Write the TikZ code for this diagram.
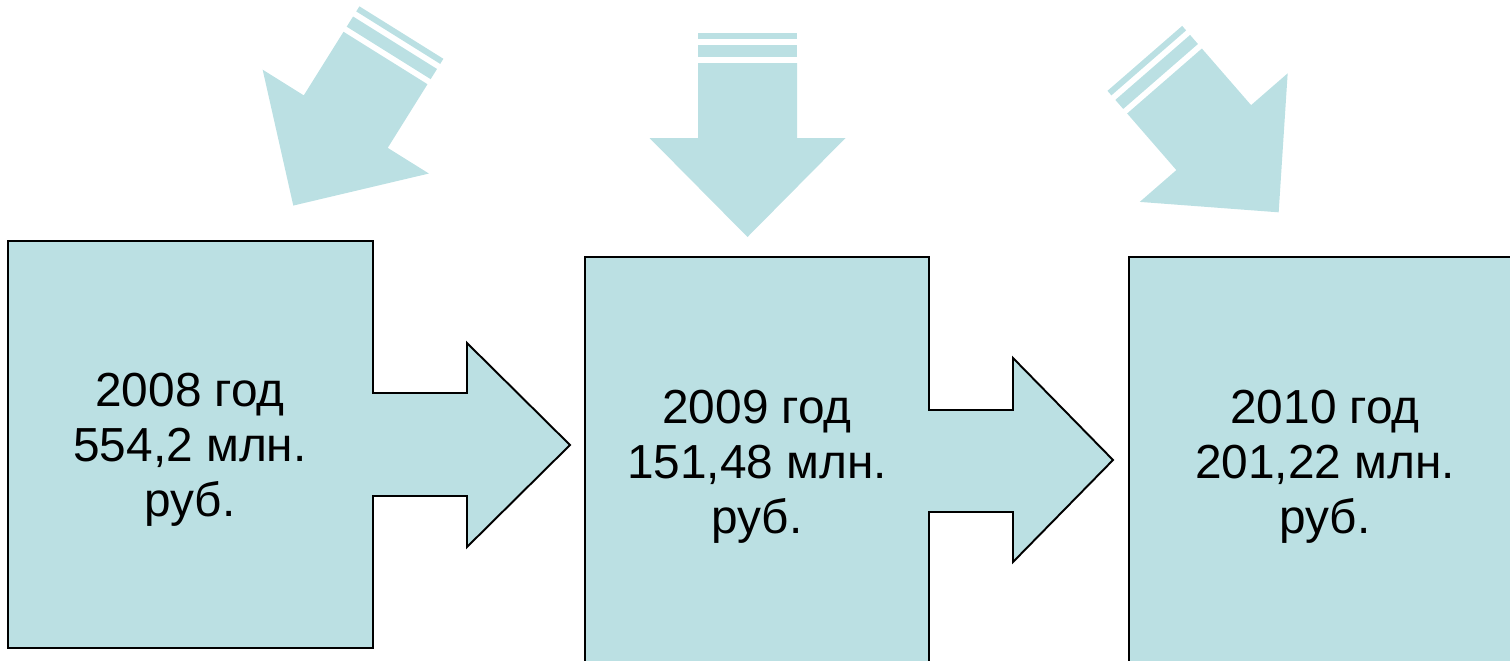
\documentclass[tikz,border=0pt]{standalone}
\usepackage{fontspec}
\setmainfont{Liberation Sans}
\usetikzlibrary{positioning}

\definecolor{paleblue}{RGB}{187,224,227}

\begin{document}
\begin{tikzpicture}[x=0.02cm, y=-0.02cm,
  callout/.style={fill=paleblue, draw=black, line width=1.1pt, line join=miter},
  yeartext/.style={align=center, inner sep=0pt, font=\fontsize{27.2}{31.2}\selectfont}]
\useasboundingbox (0,0) rectangle (1510,660);

% arrows from above
\foreach \cx/\cy/\ang in {385.5/58/-32, 747.5/63/0, 1164.5/81/41} {
  \begin{scope}[shift={(\cx,\cy)}, rotate=\ang]
    \fill[paleblue] (-49.5,0) -- (49.5,0) -- (49.5,75) -- (98,75) -- (0,174)
      -- (-98,75) -- (-49.5,75) -- cycle;
    \fill[paleblue] (-49.5,-18) rectangle (49.5,-6);
    \fill[paleblue] (-49.5,-30) rectangle (49.5,-24);
  \end{scope}
}

% boxes with arrows
\draw[callout] (8,241) -- (373,241) -- (373,393) -- (467,393) -- (467,343)
  -- (570,445) -- (467,547) -- (467,496) -- (373,496) -- (373,648)
  -- (8,648) -- cycle;
\draw[callout] (585,257) -- (929,257) -- (929,410) -- (1013,410) -- (1013,358)
  -- (1113,460) -- (1013,562) -- (1013,512) -- (929,512) -- (929,672)
  -- (585,672) -- cycle;
\draw[callout] (1129,257) -- (1522,257) -- (1522,672) -- (1129,672) -- cycle;

\node[yeartext] (y2008) at (190,450) {2008 год\\554,2 млн.\\руб.};
\node[yeartext] (y2009) at (757,467) {2009 год\\151,48 млн.\\руб.};
\node[yeartext] (y2010) at (1325,467) {2010 год\\201,22 млн.\\руб.};
\end{tikzpicture}
\end{document}
